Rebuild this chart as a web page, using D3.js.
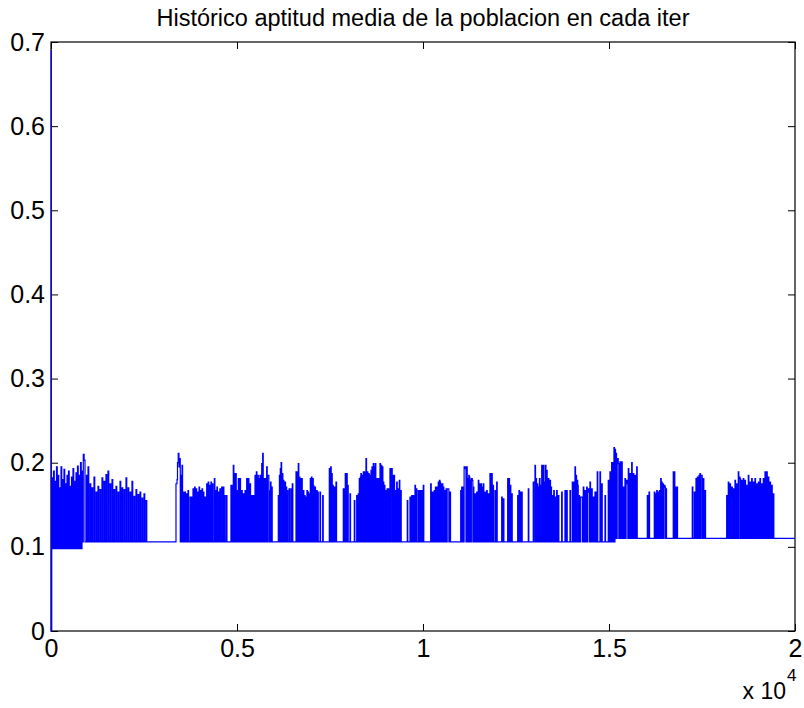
<!DOCTYPE html>
<html>
<head>
<meta charset="utf-8">
<script src="https://cdn.jsdelivr.net/npm/d3@7"></script>
<style>
  body { margin: 0; background: #fff; }
  text { font-family: Arial, "Liberation Sans", Helvetica, sans-serif; }
</style>
</head>
<body>
<svg id="chart" width="804" height="708"></svg>
<script>
var titulo = "Hist\u00f3rico aptitud media de la poblacion en cada iter";
var xTicks = [0, 5000, 10000, 15000, 20000];
var xTickLabels = ["0", "0.5", "1", "1.5", "2"];
var yTicks = [0, 0.1, 0.2, 0.3, 0.4, 0.5, 0.6, 0.7];
var yTickLabels = ["0", "0.1", "0.2", "0.3", "0.4", "0.5", "0.6", "0.7"];

// [iteracion, aptitud media] (step data)
var tramo1 = [[0,0.69],[10,0.0],[20,0.182],[45,0.098],[67,0.19],[88,0.098],[108,0.178],[128,0.098],[148,0.195],[168,0.098],[188,0.185],[208,0.098],[228,0.17],[248,0.098],[269,0.195],[289,0.098],[309,0.18],[329,0.098],[349,0.192],[369,0.098],[390,0.175],[410,0.098],[430,0.185],[450,0.098],[470,0.19],[490,0.098],[511,0.172],[531,0.098],[551,0.183],[571,0.098],[591,0.193],[611,0.098],[632,0.178],[652,0.098],[672,0.188],[692,0.098],[712,0.196],[732,0.098],[753,0.185],[773,0.098],[793,0.2],[813,0.098],[833,0.19],[850,0.106],[868,0.21],[890,0.203],[914,0.106],[954,0.185],[975,0.106],[995,0.195],[1015,0.106],[1048,0.175],[1070,0.106],[1102,0.17],[1122,0.106],[1156,0.183],[1176,0.106],[1210,0.165],[1230,0.106],[1263,0.172],[1283,0.106],[1317,0.168],[1337,0.106],[1371,0.182],[1391,0.106],[1425,0.178],[1445,0.106],[1478,0.186],[1498,0.106],[1532,0.19],[1552,0.106],[1586,0.175],[1606,0.106],[1640,0.18],[1660,0.106],[1693,0.168],[1713,0.106],[1747,0.172],[1767,0.106],[1801,0.165],[1821,0.106],[1855,0.178],[1875,0.106],[1908,0.17],[1928,0.106],[1962,0.168],[1982,0.106],[2016,0.182],[2036,0.106],[2070,0.17],[2090,0.106],[2124,0.165],[2144,0.106],[2177,0.178],[2197,0.106],[2231,0.16],[2251,0.106],[2285,0.168],[2305,0.106],[2339,0.162],[2359,0.106],[2392,0.165],[2412,0.106],[2446,0.158],[2466,0.106],[2500,0.163],[2520,0.106],[2554,0.155],[2574,0.106]];

var tramo2 = [[3360,0.175],[3387,0.18],[3400,0.2],[3420,0.211],[3440,0.195],[3460,0.205],[3475,0.106],[3495,0.185],[3510,0.106],[3522,0.197],[3537,0.106],[3556,0.165],[3571,0.106],[3600,0.165],[3615,0.106],[3640,0.163],[3655,0.106],[3683,0.167],[3698,0.106],[3736,0.159],[3751,0.106],[3782,0.159],[3797,0.106],[3817,0.169],[3832,0.106],[3860,0.171],[3875,0.106],[3900,0.169],[3915,0.106],[3940,0.165],[3955,0.106],[3980,0.171],[3995,0.106],[4020,0.167],[4035,0.106],[4060,0.169],[4075,0.106],[4094,0.165],[4109,0.106],[4140,0.159],[4155,0.106],[4185,0.175],[4200,0.106],[4225,0.177],[4240,0.106],[4265,0.173],[4280,0.106],[4300,0.177],[4315,0.106],[4340,0.175],[4355,0.106],[4390,0.181],[4405,0.106],[4420,0.167],[4435,0.106],[4460,0.171],[4475,0.106],[4500,0.165],[4515,0.106],[4540,0.169],[4555,0.106],[4588,0.171],[4603,0.106],[4632,0.171],[4647,0.106],[4665,0.161],[4680,0.106],[4715,0.161],[4730,0.106],
  [4837,0.173],[4852,0.106],[4872,0.173],[4887,0.106],[4900,0.197],[4915,0.106],[4930,0.187],[4945,0.106],[4965,0.187],[4980,0.106],[4992,0.167],[5007,0.106],[5035,0.181],[5050,0.106],[5080,0.181],[5095,0.106],[5126,0.167],[5141,0.106],[5170,0.163],[5185,0.106],[5215,0.167],[5230,0.106],[5260,0.181],[5275,0.106],[5304,0.181],[5319,0.106],[5349,0.175],[5364,0.106],[5395,0.161],[5410,0.106],[5440,0.161],[5455,0.106],[5484,0.185],[5499,0.106],[5520,0.189],[5535,0.106],[5556,0.185],[5572,0.181],[5587,0.106],[5618,0.185],[5633,0.106],[5664,0.199],[5679,0.106],[5690,0.211],[5705,0.106],[5725,0.181],[5740,0.106],[5752,0.181],[5767,0.106],[5797,0.195],[5812,0.106],[5820,0.185],[5841,0.185],[5856,0.106],[5870,0.167],[5885,0.106],[5900,0.177],[5915,0.106],[5932,0.171],[5947,0.106],
  [6110,0.161],[6125,0.106],[6140,0.185],[6155,0.106],[6164,0.193],[6179,0.106],[6185,0.2],[6200,0.106],[6218,0.187],[6233,0.106],[6245,0.179],[6260,0.106],[6275,0.173],[6290,0.177],[6305,0.106],[6320,0.171],[6335,0.106],[6350,0.167],[6365,0.106],[6400,0.169],[6415,0.106],[6450,0.169],[6465,0.106],[6486,0.175],[6501,0.106],[6586,0.189],[6601,0.106],[6620,0.189],[6635,0.106],[6647,0.199],[6662,0.106],[6674,0.183],[6689,0.106],[6705,0.181],[6720,0.106],[6739,0.181],[6754,0.106],[6782,0.167],[6797,0.106],[6815,0.161],[6830,0.106],[6854,0.159],[6869,0.106],[6880,0.167],[6895,0.106],[6910,0.165],[6925,0.106],[6943,0.163],[6958,0.106],[6970,0.181],[6985,0.106],[7000,0.183],[7015,0.106],[7035,0.181],[7050,0.173],[7065,0.106],[7095,0.171],[7110,0.106],[7140,0.167],[7155,0.106],[7170,0.165],[7185,0.106],[7231,0.165],[7246,0.106],[7303,0.161],[7318,0.106],
  [7481,0.193],[7496,0.106],[7518,0.195],[7533,0.106],[7545,0.187],[7560,0.106],[7572,0.173],[7587,0.106],[7615,0.171],[7630,0.106],[7661,0.177],[7676,0.106],
  [7857,0.169],[7872,0.106],[7884,0.169],[7899,0.106],[7910,0.187],[7925,0.106],[7948,0.187],[7963,0.106],[7975,0.173],[7990,0.106],[8037,0.163],[8052,0.106]];

var tramo3 = [[8153,0.155],[8168,0.106],[8217,0.161],[8232,0.106],[8244,0.161],[8260,0.163],[8275,0.106],[8287,0.181],[8302,0.106],[8315,0.183],[8330,0.187],[8345,0.106],[8368,0.185],[8383,0.106],[8395,0.189],[8410,0.106],[8440,0.189],[8455,0.106],[8467,0.205],[8482,0.106],[8502,0.189],[8517,0.106],[8540,0.187],[8555,0.106],[8575,0.185],[8590,0.106],[8602,0.191],[8617,0.106],[8630,0.195],[8645,0.106],[8663,0.199],[8678,0.106],[8690,0.195],[8705,0.106],[8717,0.199],[8732,0.106],[8754,0.181],[8769,0.106],[8798,0.181],[8813,0.106],[8844,0.199],[8859,0.106],[8875,0.197],[8890,0.106],[8906,0.195],[8921,0.106],[8932,0.177],[8947,0.106],[8960,0.173],[8975,0.106],[9005,0.167],[9020,0.106],[9035,0.169],[9050,0.106],[9066,0.169],[9081,0.106],[9112,0.193],[9127,0.106],[9140,0.189],[9158,0.193],[9173,0.106],[9185,0.185],[9200,0.106],[9220,0.185],[9235,0.106],[9247,0.167],[9262,0.106],[9292,0.177],[9307,0.106],[9330,0.169],[9345,0.106],[9362,0.179],[9377,0.106],[9400,0.167],[9415,0.106],
  [9577,0.155],[9592,0.106],[9650,0.159],[9665,0.106],[9696,0.161],[9711,0.106],[9739,0.161],[9754,0.106],[9784,0.173],[9799,0.106],[9820,0.169],[9835,0.106],[9873,0.167],[9888,0.106],[9919,0.167],[9934,0.106],[9964,0.167],[9979,0.106],[10007,0.173],[10022,0.106],
  [10206,0.175],[10221,0.106],[10240,0.165],[10255,0.106],[10276,0.165],[10291,0.106],[10303,0.167],[10318,0.106],[10335,0.171],[10350,0.106],[10367,0.171],[10382,0.106],[10410,0.177],[10425,0.106],[10440,0.179],[10456,0.177],[10471,0.106],[10483,0.175],[10498,0.106],[10518,0.175],[10533,0.106],[10545,0.171],[10560,0.106],[10591,0.167],[10606,0.106],[10620,0.169],[10635,0.106],[10650,0.169],[10680,0.169],[10695,0.106],[10725,0.165],[10740,0.106],
  [11013,0.167],[11028,0.106],[11040,0.171],[11055,0.106],[11083,0.171],[11098,0.106],[11105,0.195],[11120,0.193],[11140,0.195],[11155,0.106],[11174,0.195],[11189,0.106],[11200,0.181],[11215,0.106],[11230,0.185],[11244,0.183],[11259,0.106],[11270,0.179],[11285,0.106],[11300,0.181],[11325,0.179],[11340,0.106],[11352,0.171],[11367,0.106],[11397,0.163],[11412,0.106],[11443,0.165],[11458,0.106],[11486,0.179],[11501,0.106],[11520,0.175],[11535,0.106],[11558,0.175],[11573,0.106],[11590,0.171],[11605,0.106],[11620,0.175],[11635,0.106],[11650,0.165],[11665,0.106],[11685,0.165],[11700,0.106],[11712,0.167],[11727,0.106],[11755,0.163],[11770,0.106],[11800,0.187],[11815,0.106],[11846,0.187],[11861,0.106],[11880,0.173],[11895,0.106],[11935,0.167],[11950,0.106],[11980,0.177],[11995,0.106],
  [12115,0.159],[12130,0.106],[12160,0.157],[12175,0.106],
  [12276,0.181],[12291,0.106],[12311,0.181],[12326,0.106],[12345,0.173],[12360,0.106],[12384,0.163],[12399,0.106],
  [12545,0.161],[12560,0.106],[12580,0.167],[12595,0.106],[12620,0.165],[12635,0.106],[12652,0.165],[12667,0.106],
  [12830,0.169],[12845,0.106]];

var tramo4 = [[12963,0.177],[12978,0.106],[12991,0.177],[13010,0.197],[13025,0.106],[13037,0.181],[13052,0.106],[13070,0.175],[13085,0.106],[13099,0.171],[13114,0.106],[13130,0.181],[13145,0.106],[13160,0.173],[13175,0.106],[13191,0.197],[13206,0.106],[13233,0.197],[13248,0.106],[13261,0.177],[13276,0.106],[13290,0.197],[13305,0.106],[13323,0.191],[13338,0.106],[13368,0.181],[13383,0.106],[13413,0.179],[13428,0.106],[13440,0.171],[13455,0.106],[13486,0.161],[13501,0.106],[13515,0.167],[13530,0.106],[13548,0.159],[13563,0.106],[13593,0.167],[13608,0.106],[13637,0.161],[13652,0.106],[13727,0.165],[13742,0.106],[13816,0.167],[13831,0.106],[13862,0.167],[13877,0.106],[13951,0.167],[13966,0.106],[14013,0.177],[14028,0.106],[14040,0.177],[14055,0.106],[14085,0.195],[14100,0.106],[14112,0.185],[14127,0.106],[14140,0.179],[14158,0.173],[14173,0.106],[14193,0.161],[14208,0.106],[14230,0.159],[14265,0.159],[14280,0.106],[14308,0.171],[14323,0.106],[14354,0.167],[14369,0.106],[14399,0.171],[14414,0.106],[14430,0.169],[14461,0.165],[14476,0.106],[14488,0.177],[14503,0.106],[14534,0.169],[14549,0.106],[14577,0.159],[14592,0.106],[14623,0.165],[14638,0.106],[14650,0.165],[14665,0.106],[14684,0.189],[14699,0.106],[14757,0.189],[14772,0.106],[14803,0.175],[14818,0.106],[14892,0.161],[14907,0.106],[14980,0.179],[14995,0.106],[15026,0.189],[15041,0.106],[15071,0.2],[15086,0.106],[15100,0.198],[15114,0.2],[15129,0.106],[15133,0.218],[15148,0.106],[15160,0.216],[15175,0.11],[15187,0.211],[15202,0.11],[15220,0.205],[15249,0.199],[15264,0.11],[15295,0.201],[15310,0.11],[15341,0.201],[15356,0.11],[15368,0.171],[15383,0.11],[15402,0.171],[15417,0.11],[15429,0.181],[15444,0.11],[15460,0.179],[15491,0.175],[15506,0.11],[15518,0.193],[15533,0.11],[15564,0.187],[15579,0.11],[15609,0.2],[15624,0.11],[15652,0.187],[15667,0.11],[15698,0.185],[15713,0.11],[15744,0.195],[15759,0.11]];

var tramo5 = [[16030,0.161],[16045,0.11],[16075,0.165],[16090,0.11],
  [16217,0.165],[16232,0.11],[16250,0.163],[16265,0.11],[16282,0.167],[16297,0.11],[16320,0.165],[16335,0.11],[16355,0.167],[16370,0.165],[16385,0.11],[16389,0.181],[16404,0.11],[16416,0.177],[16431,0.11],[16450,0.175],[16465,0.11],[16480,0.173],[16504,0.171],[16519,0.11],[16531,0.169],[16546,0.11],
  [16727,0.189],[16742,0.11],[16754,0.189],[16769,0.11],[16800,0.171],[16815,0.11],[16827,0.171],[16842,0.11],
  [17238,0.171],[17253,0.11],[17292,0.165],[17307,0.11],[17338,0.181],[17353,0.11],[17373,0.183],[17388,0.11],[17418,0.185],[17433,0.11],[17445,0.187],[17460,0.11],[17470,0.185],[17490,0.185],[17505,0.11],[17534,0.181],[17549,0.11],[17565,0.163],[17580,0.167],[17595,0.11],
  [18163,0.161],[18178,0.11],[18206,0.177],[18221,0.11],[18252,0.175],[18267,0.11],[18300,0.171],[18315,0.11],[18340,0.169],[18355,0.11],[18386,0.179],[18401,0.11],[18432,0.175],[18447,0.11],[18475,0.189],[18490,0.11],[18500,0.183],[18521,0.181],[18536,0.11],[18567,0.179],[18582,0.11],[18609,0.181],[18624,0.11],[18655,0.179],[18670,0.11],[18701,0.173],[18716,0.11],[18744,0.185],[18759,0.11],[18789,0.177],[18804,0.11],[18835,0.181],[18850,0.11],[18878,0.177],[18893,0.11],[18924,0.181],[18939,0.11],[18970,0.175],[18985,0.11],[19015,0.177],[19030,0.11],[19058,0.181],[19073,0.11],[19104,0.175],[19119,0.11],[19147,0.181],[19162,0.11],[19193,0.189],[19208,0.11],[19239,0.189],[19254,0.11],[19282,0.183],[19297,0.11],[19327,0.177],[19342,0.11],[19373,0.173],[19388,0.11],[19416,0.163],[19431,0.11],[20000,0.11]];

var serie = [].concat(tramo1, tramo2, tramo3, tramo4, tramo5);

var svg = d3.select("#chart");
var ejeIzq = 51, ejeDer = 795, ejeSup = 42, ejeInf = 631;

var x = d3.scaleLinear().domain([0, 20000]).range([ejeIzq, ejeDer]);
var y = d3.scaleLinear().domain([0, 0.7]).range([ejeInf, ejeSup]);

// caja de los ejes
svg.append("rect")
  .attr("x", ejeIzq).attr("y", ejeSup)
  .attr("width", ejeDer - ejeIzq).attr("height", ejeInf - ejeSup)
  .attr("fill", "none").attr("stroke", "#000").attr("stroke-width", 1.2);

function estiloEje(g, size) {
  g.select(".domain").remove();
  g.selectAll("line").attr("stroke", "#000").attr("stroke-width", 1);
  g.selectAll("text").attr("font-size", size).attr("fill", "#000")
    .attr("font-family", "Arial, 'Liberation Sans', sans-serif");
}

svg.append("g").attr("transform", "translate(0," + ejeInf + ")")
  .call(d3.axisBottom(x).tickValues(xTicks).tickSize(-7).tickPadding(8)
    .tickFormat(function(d, i) { return xTickLabels[i]; }))
  .call(estiloEje, 25);

svg.append("g").attr("transform", "translate(0," + ejeSup + ")")
  .call(d3.axisTop(x).tickValues(xTicks).tickSize(-7).tickFormat(""))
  .call(estiloEje, 25);

svg.append("g").attr("transform", "translate(" + ejeIzq + ",0)")
  .call(d3.axisLeft(y).tickValues(yTicks).tickSize(-7).tickPadding(6)
    .tickFormat(function(d, i) { return yTickLabels[i]; }))
  .call(estiloEje, 25);

svg.append("g").attr("transform", "translate(" + ejeDer + ",0)")
  .call(d3.axisRight(y).tickValues(yTicks).tickSize(-7).tickFormat(""))
  .call(estiloEje, 25);

// serie
var linea = d3.line()
  .x(function(d) { return x(d[0]); })
  .y(function(d) { return y(d[1]); })
  .curve(d3.curveStepAfter);

svg.append("path")
  .datum(serie)
  .attr("d", linea)
  .attr("fill", "none")
  .attr("stroke", "#0000ff")
  .attr("stroke-width", 1.2);

// titulo
svg.append("text")
  .attr("x", (ejeIzq + ejeDer) / 2).attr("y", 26)
  .attr("text-anchor", "middle")
  .attr("font-size", 23.5)
  .text(titulo);

// multiplicador del eje x
svg.append("text")
  .attr("x", 786).attr("y", 699)
  .attr("text-anchor", "end")
  .attr("font-size", 23)
  .text("x 10");
svg.append("text")
  .attr("x", 787).attr("y", 681)
  .attr("font-size", 17)
  .text("4");
</script>
</body>
</html>
